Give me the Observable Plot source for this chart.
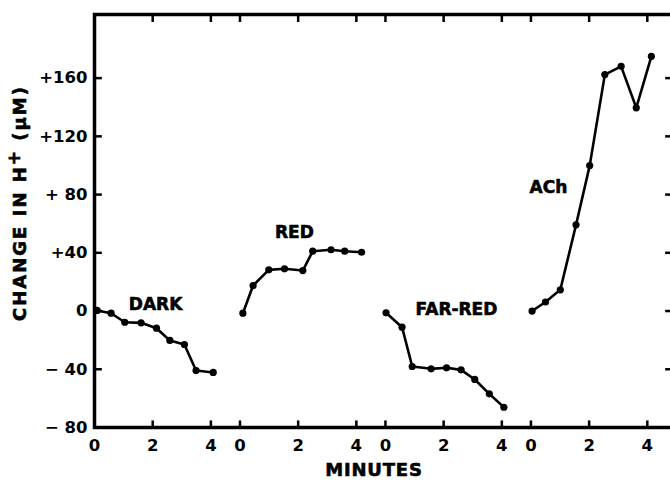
<!DOCTYPE html>
<html><head><meta charset="utf-8">
<script src="https://cdn.jsdelivr.net/npm/d3@7"></script>
<script src="https://cdn.jsdelivr.net/npm/@observablehq/plot@0.6"></script>
<style>
html,body{margin:0;padding:0;background:#fff;overflow:hidden;width:670px;height:481px}
#chart{width:670px;height:481px;overflow:hidden;position:relative}
#chart svg{max-width:none !important;display:block}
</style></head><body><div id="chart"></div>
<script>
// ---- data ----
const panels = ["DARK", "RED", "FAR-RED", "ACh"];

const darkMin = [0.09, 0.57, 1.04, 1.6, 2.13, 2.59, 3.09, 3.49, 4.08];
const darkVal = [0.4, -1.5, -7.7, -8.1, -11.8, -20.2, -23, -40.9, -42.2];

const redMin = [0.1, 0.45, 0.99, 1.53, 2.16, 2.5, 3.13, 3.6, 4.18];
const redVal = [-1.5, 17.5, 28.3, 29.0, 27.8, 41.1, 42.1, 41.1, 40.4];

const farRedMin = [0.02, 0.57, 0.92, 1.57, 2.1, 2.6, 3.07, 3.57, 4.07];
const farRedVal = [-1.2, -11.1, -38.1, -39.7, -39.0, -40.4, -47, -56.9, -66.1];

const achMin = [0.04, 0.5, 1.01, 1.55, 2.02, 2.54, 3.1, 3.62, 4.14];
const achVal = [0.0, 6.2, 14.6, 59.2, 99.9, 162.4, 168.1, 139.6, 175.0];

const yTicks = [-80, -40, 0, 40, 80, 120, 160];
const yTickLabels = ["\u2212 80", "\u2212 40", "0", "+40", "+ 80", "+120", "+160"];
const xTickMinutes = [0, 2, 4];

// panel label anchors (minutes within panel, value)
const labelMin = [2.1, 1.87, 2.44, 0.6];
const labelVal = [4.5, 54, 1, 85];

// ---- build ----
const GAP = 5; // minutes from one panel origin to the next
const seriesMin = [darkMin, redMin, farRedMin, achMin];
const seriesVal = [darkVal, redVal, farRedVal, achVal];
const rows = [];
seriesMin.forEach((ts, k) => ts.forEach((t, i) => rows.push({panel: panels[k], x: k * GAP + t, y: seriesVal[k][i]})));
const labels = panels.map((p, k) => ({text: p, x: k * GAP + labelMin[k], y: labelVal[k]}));
const xTicks = [];
panels.forEach((p, k) => xTickMinutes.forEach(m => xTicks.push({x: k * GAP + m, label: String(m)})));

const X0 = 0, X1 = 19.9, Y0 = -80, Y1 = 203.7;
const font = "DejaVu Sans";
const heavy = {fontWeight: "bold", fontFamily: font, fill: "#000", stroke: "#000", strokeWidth: 0.6};

const svg = Plot.plot({
  width: 680, height: 481,
  marginLeft: 94, marginRight: 7, marginTop: 14, marginBottom: 54,
  style: {fontFamily: font, fontWeight: "bold", color: "#000", background: "#fff"},
  x: {domain: [X0, X1]},
  y: {domain: [Y0, Y1]},
  marks: [
    Plot.axisY({ticks: yTicks, tickSize: 0, tickPadding: 7, tickFormat: d => yTickLabels[yTicks.indexOf(d)],
      fontSize: 16.5, ...heavy, label: null}),
    Plot.axisX({ticks: xTicks.map(d => d.x), tickSize: 0, tickPadding: 12,
      tickFormat: d => xTicks.find(t => Math.abs(t.x - d) < 1e-6).label,
      fontSize: 16.5, ...heavy, label: null}),
    // inward ticks
    Plot.ruleY(yTicks, {y: d => d, x1: X0, x2: X0 + 0.27, strokeWidth: 2.5}),
    Plot.ruleY(yTicks, {y: d => d, x1: X1 - 0.27, x2: X1, strokeWidth: 2.5}),
    Plot.ruleX(xTicks, {x: "x", y1: Y0, y2: Y0 + 4.5, strokeWidth: 2.5}),
    Plot.ruleX(xTicks, {x: "x", y1: Y1 - 5.5, y2: Y1, strokeWidth: 2.5}),
    Plot.frame({stroke: "#000", strokeWidth: 3.5}),
    Plot.line(rows, {x: "x", y: "y", z: "panel", stroke: "#000", strokeWidth: 2.6}),
    Plot.dot(rows, {x: "x", y: "y", r: 3.6, fill: "#000", stroke: "none"}),
    Plot.text(labels, {x: "x", y: "y", text: "text", fontSize: 17, ...heavy})
  ]
});
svg.style.maxWidth = "none";
svg.style.overflow = "hidden";

const s = d3.select(svg);
// X axis title
s.append("text")
  .attr("x", 374).attr("y", 476)
  .attr("text-anchor", "middle")
  .attr("font-family", font).attr("font-weight", "bold").attr("font-size", 18)
  .attr("letter-spacing", 0.8)
  .attr("fill", "#000").attr("stroke", "#000").attr("stroke-width", 0.6)
  .text("MINUTES");
// Y axis title with superscript +
const yt = s.append("text")
  .attr("transform", "translate(26,203) rotate(-90)")
  .attr("text-anchor", "middle")
  .attr("font-family", font).attr("font-weight", "bold").attr("font-size", 18)
  .attr("letter-spacing", 2)
  .attr("fill", "#000").attr("stroke", "#000").attr("stroke-width", 0.6);
yt.append("tspan").text("CHANGE IN H");
yt.append("tspan").attr("dy", -6).attr("font-size", 17).text("+");
yt.append("tspan").attr("dy", 6).text(" (\u03bcM)");

document.getElementById("chart").appendChild(svg);
</script>
</body></html>
